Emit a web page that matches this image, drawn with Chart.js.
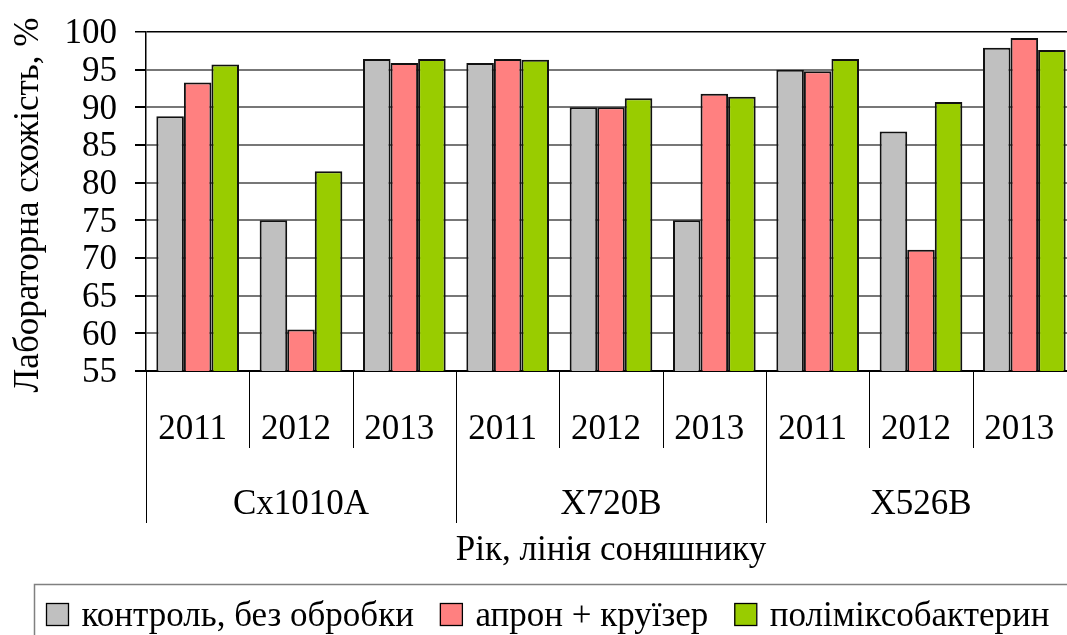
<!DOCTYPE html>
<html>
<head>
<meta charset="utf-8">
<script src="https://cdn.jsdelivr.net/npm/chart.js@4.4.1/dist/chart.umd.min.js"></script>
<style>
  html, body { margin: 0; padding: 0; background: #fff; overflow: hidden; }
  #wrap { width: 1080px; height: 635px; position: relative; }
</style>
</head>
<body>
<div id="wrap"><canvas id="c" width="1080" height="635"></canvas></div>
<script>
// ---- data ----
const years = ['2011', '2012', '2013', '2011', '2012', '2013', '2011', '2012', '2013'];
const lines = ['Cx1010A', 'X720B', 'X526B'];
const seriesNames = ['контроль, без обробки', 'апрон + круїзер', 'поліміксобактерин'];
const control = [88.8, 75.0, 96.4, 95.9, 90.0, 75.0, 95.0, 86.8, 97.9];
const apron   = [93.3, 60.5, 95.9, 96.4, 90.0, 91.8, 94.8, 71.1, 99.2];
const polymix = [95.7, 81.5, 96.4, 96.3, 91.2, 91.4, 96.4, 90.7, 97.6];
const yTitle = 'Лабораторна схожість, %';
const xTitle = 'Рік, лінія соняшнику';
const yMin = 55, yMax = 100, yStep = 5;

const colors = ['#C0C0C0', '#FF8080', '#99CC00'];
const FONT = 'Liberation Serif';
const FS = 35;

const groupPlugin = {
  id: 'groupAxis',
  afterDraw(chart) {
    const ctx = chart.ctx;
    const xs = chart.scales.x;
    const area = chart.chartArea;
    const n = years.length;
    const catW = (area.right - area.left) / n;
    ctx.save();
    // separators
    ctx.strokeStyle = '#000';
    ctx.lineWidth = 1;
    for (let i = 0; i <= n; i++) {
      const x = Math.round(area.left + i * catW) + 0.5;
      const isGroup = i % 3 === 0;
      ctx.beginPath();
      ctx.moveTo(x, area.bottom);
      ctx.lineTo(x, isGroup ? 523 : 448);
      ctx.stroke();
    }
    // year labels
    ctx.fillStyle = '#000';
    ctx.font = FS + 'px "' + FONT + '"';
    ctx.textAlign = 'center';
    ctx.textBaseline = 'alphabetic';
    for (let i = 0; i < n; i++) {
      const cx = xs.getPixelForValue(i);
      ctx.fillText(years[i], cx - 5, 439);
    }
    // group labels
    for (let g = 0; g < lines.length; g++) {
      const cx = (xs.getPixelForValue(g * 3) + xs.getPixelForValue(g * 3 + 2)) / 2;
      ctx.fillText(lines[g], cx, 514);
    }
    // x title
    ctx.fillText(xTitle, (area.left + area.right) / 2, 560);
    // y title
    ctx.save();
    ctx.translate(38, 205);
    ctx.rotate(-Math.PI / 2);
    ctx.textAlign = 'center';
    ctx.fillText(yTitle, 0, 0);
    ctx.restore();
    // legend
    ctx.strokeStyle = '#808080';
    ctx.lineWidth = 1.5;
    ctx.strokeRect(34.5, 584.5, 1100, 100);
    ctx.textAlign = 'left';
    let lx = 46;
    chart.data.datasets.forEach((ds) => {
      ctx.fillStyle = ds.backgroundColor;
      ctx.fillRect(lx, 603.5, 22, 22);
      ctx.strokeStyle = '#000';
      ctx.lineWidth = 1.3;
      ctx.strokeRect(lx + 0.5, 603.5, 22, 22);
      ctx.fillStyle = '#000';
      const tx = lx + 35.5;
      ctx.fillText(ds.label, tx, 626);
      lx = tx + ctx.measureText(ds.label).width + 26;
    });
    ctx.restore();
  }
};

new Chart(document.getElementById('c'), {
  type: 'bar',
  data: {
    labels: years,
    datasets: [
      { label: seriesNames[0], data: control, backgroundColor: colors[0] },
      { label: seriesNames[1], data: apron, backgroundColor: colors[1] },
      { label: seriesNames[2], data: polymix, backgroundColor: colors[2] }
    ].map(d => Object.assign(d, {
      borderColor: '#111', borderWidth: 2,
      categoryPercentage: 0.8, barPercentage: 1.0
    }))
  },
  options: {
    responsive: false,
    animation: false,
    devicePixelRatio: 1,
    layout: { padding: { top: 32, right: 4, left: 0, bottom: 0 } },
    plugins: { legend: { display: false }, tooltip: { enabled: false } },
    scales: {
      x: {
        type: 'category',
        offset: true,
        grid: { display: false, drawTicks: false },
        border: { display: true, color: '#000', width: 1.5 },
        ticks: { display: false },
        afterFit(s) { s.height = 264; s.paddingLeft = 0; s.paddingRight = 0; }
      },
      y: {
        min: yMin, max: yMax,
        ticks: {
          stepSize: yStep, color: '#000', padding: 18, labelOffset: 2,
          autoSkip: false,
          font: { family: FONT, size: FS }
        },
        grid: {
          color: (c) => (c.tick && (c.tick.value === yMax || c.tick.value === yMin)) ? '#000' : '#777',
          lineWidth: (c) => (c.tick && c.tick.value === yMax) ? 1.5 : 2,
          tickLength: 11,
          tickColor: '#000'
        },
        border: { display: true, color: '#000', width: 1.5 },
        afterFit(s) { s.width = 146; s.paddingTop = 0; s.paddingBottom = 0; }
      }
    }
  },
  plugins: [groupPlugin]
});
</script>
</body>
</html>
